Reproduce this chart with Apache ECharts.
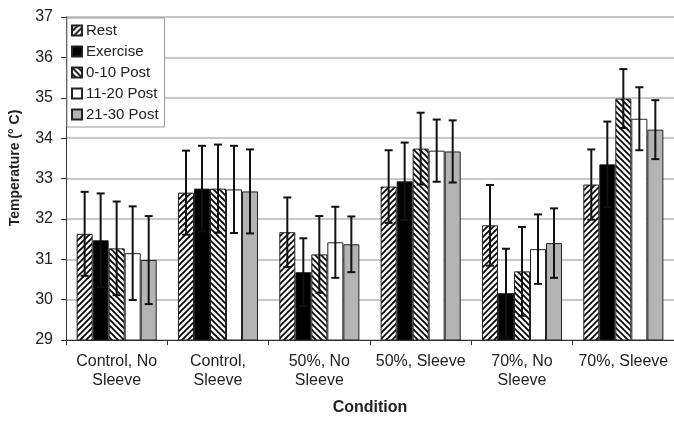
<!DOCTYPE html>
<html>
<head>
<meta charset="utf-8">
<script src="https://cdn.jsdelivr.net/npm/echarts@6/dist/echarts.min.js"></script>
<style>
  html, body { margin: 0; padding: 0; background: #fff; }
  #chart { width: 674px; height: 421px; }
</style>
</head>
<body>
<div id="chart"></div>
<script>
// ---- Data ----
const categories = ['Control, No\nSleeve', 'Control,\nSleeve', '50%, No\nSleeve', '50%, Sleeve', '70%, No\nSleeve', '70%, Sleeve'];
const seriesNames = ['Rest', 'Exercise', '0-10 Post', '11-20 Post', '21-30 Post'];

const restMean     = [31.63, 32.65, 31.67, 32.80, 31.84, 32.85];
const restSD       = [1.04, 1.04, 0.86, 0.90, 1.00, 0.87];
const exerciseMean = [31.47, 32.75, 30.68, 32.93, 30.16, 33.35];
const exerciseSD   = [1.16, 1.06, 0.84, 0.96, 1.10, 1.06];
const post0Mean    = [31.27, 32.75, 31.12, 33.74, 30.70, 34.98];
const post0SD      = [1.16, 1.09, 0.95, 0.89, 1.10, 0.73];
const post11Mean   = [31.15, 32.73, 31.42, 33.69, 31.25, 34.48];
const post11SD     = [1.16, 1.08, 0.88, 0.77, 0.86, 0.78];
const post21Mean   = [30.98, 32.68, 31.37, 33.67, 31.40, 34.21];
const post21SD     = [1.09, 1.04, 0.69, 0.77, 0.86, 0.73];

const yTicks = [29, 30, 31, 32, 33, 34, 35, 36, 37];

const means = [restMean, exerciseMean, post0Mean, post11Mean, post21Mean];
const sds = [restSD, exerciseSD, post0SD, post11SD, post21SD];

// ---- Patterns ----
function hatch(dir) {
  const s = 6;
  const c = document.createElement('canvas');
  c.width = s; c.height = s;
  const g = c.getContext('2d');
  g.fillStyle = '#ffffff';
  g.fillRect(0, 0, s, s);
  g.strokeStyle = '#000000';
  g.lineWidth = 1.7;
  g.beginPath();
  if (dir === '/') {
    for (let k = -1; k <= 1; k++) {
      g.moveTo(k * s - 1, s + 1);
      g.lineTo(k * s + s + 1, -1);
    }
  } else {
    for (let k = -1; k <= 1; k++) {
      g.moveTo(k * s - 1, -1);
      g.lineTo(k * s + s + 1, s + 1);
    }
  }
  g.stroke();
  return { image: c, repeat: 'repeat' };
}

const fills = [hatch('/'), '#000000', hatch('\\'), '#ffffff', '#b4b4b4'];

const chart = echarts.init(document.getElementById('chart'), null, { renderer: 'canvas' });

const CAT_GAP = 0.21;
const barSeries = seriesNames.map((name, si) => ({
  name: name,
  type: 'bar',
  data: means[si],
  barGap: '0%',
  barCategoryGap: (CAT_GAP * 100) + '%',
  itemStyle: { color: fills[si], borderColor: '#222', borderWidth: 1 },
  emphasis: { disabled: true },
  z: 2
}));

const errSeries = seriesNames.map((name, si) => ({
  type: 'custom',
  name: name + ' err',
  z: 10,
  silent: true,
  data: categories.map((c, i) => [i, means[si][i], sds[si][i]]),
  encode: { x: 0, y: 1 },
  renderItem: function (params, api) {
    const ci = api.value(0), m = api.value(1), sd = api.value(2);
    const cw = api.size([1, 0])[0];
    const bw = cw * (1 - CAT_GAP) / 5;
    const x = api.coord([ci, m])[0] + (si - 2) * bw;
    const yT = api.coord([ci, m + sd])[1];
    const yB = api.coord([ci, m - sd])[1];
    const cap = 4;
    const st = { stroke: '#111', lineWidth: 2 };
    return {
      type: 'group',
      children: [
        { type: 'line', shape: { x1: x, y1: yT, x2: x, y2: yB }, style: st },
        { type: 'line', shape: { x1: x - cap, y1: yT, x2: x + cap, y2: yT }, style: st },
        { type: 'line', shape: { x1: x - cap, y1: yB, x2: x + cap, y2: yB }, style: st }
      ]
    };
  }
}));

const option = {
  animation: false,
  backgroundColor: '#ffffff',
  textStyle: { fontFamily: 'Liberation Sans, Arial, sans-serif', color: '#222' },
  grid: { left: 66, top: 17, width: 612, height: 324, containLabel: false },
  legend: {
    data: seriesNames,
    orient: 'vertical',
    left: 67,
    top: 18,
    width: 97,
    padding: [5, 6, 5, 4],
    itemGap: 6,
    itemWidth: 10,
    itemHeight: 10,
    backgroundColor: '#ffffff',
    borderColor: '#999',
    borderWidth: 1,
    selectedMode: false,
    icon: 'rect',
    textStyle: { fontSize: 15, color: '#222', lineHeight: 15, padding: [0, 0, 0, -1] },
    z: 20
  },
  xAxis: {
    type: 'category',
    data: categories,
    name: 'Condition',
    nameLocation: 'middle',
    nameGap: 60,
    nameTextStyle: { fontSize: 16, fontWeight: 'bold', color: '#222' },
    axisLine: { lineStyle: { color: '#333', width: 1 } },
    axisTick: { show: true, length: 5, lineStyle: { color: '#333' } },
    axisLabel: { fontSize: 16, lineHeight: 19, margin: 12, color: '#222', interval: 0 }
  },
  yAxis: {
    type: 'value',
    min: 29,
    max: 37,
    interval: 1,
    axisLine: { show: true, lineStyle: { color: '#333', width: 1 } },
    axisTick: { show: true, length: 5, lineStyle: { color: '#333' } },
    axisLabel: {
      fontSize: 16, margin: 13, color: '#222',
      formatter: v => (yTicks.indexOf(v) >= 0 ? String(v) : '')
    },
    splitLine: { show: true, lineStyle: { color: '#c8c8c8', width: 2 } }
  },
  graphic: [{
    type: 'text',
    x: 15,
    y: 168,
    rotation: Math.PI / 2,
    style: {
      text: 'Temperature (° C)',
      font: 'bold 14px Liberation Sans, Arial, sans-serif',
      fill: '#222',
      textAlign: 'center',
      textVerticalAlign: 'middle'
    }
  }],
  series: barSeries.concat(errSeries)
};

chart.setOption(option);
</script>
</body>
</html>
